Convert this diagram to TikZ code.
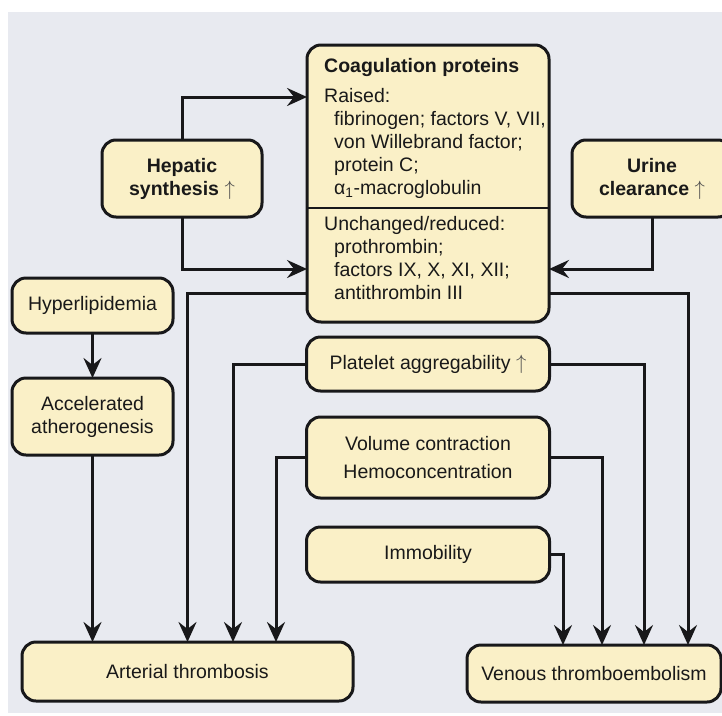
\documentclass[tikz,border=0pt]{standalone}
\usepackage{fontspec}
\setmainfont{Liberation Sans}
\usetikzlibrary{arrows.meta, positioning, calc}

\definecolor{bgpanel}{RGB}{232,234,240}
\definecolor{boxfill}{RGB}{250,240,199}
\definecolor{inkline}{RGB}{24,24,26}
\newcommand{\boxfont}{\fontsize{19.5}{23}\selectfont}

\begin{document}
\begin{tikzpicture}[
  x=1pt, y=-1pt,
  box/.style={draw=inkline, line width=3pt, rounded corners=14pt, fill=boxfill, align=center,
              outer sep=0pt, inner sep=0pt, font=\boxfont, text=black!90},
  bbox/.style={box, font=\boxfont\bfseries},
  txt/.style={align=left, inner sep=0pt, anchor=north west, font=\boxfont, text=black!90},
  line/.style={line width=3pt, draw=inkline, -{Stealth[length=20pt, width=18pt, inset=7pt]}},
  up/.style={text=black!65}
]
\useasboundingbox (0,0) rectangle (722,715);
\fill[bgpanel] (8,12) rectangle (722,713);

% Central block
\node[box, minimum width=242pt, minimum height=277pt] (coag) at (428,183.5) {};
\node[txt] (raised) at ([xshift=17pt,yshift=-12.8pt]coag.north west) {%
\textbf{Coagulation proteins}\\[7pt]
Raised:\\
\hspace*{10pt}fibrinogen; factors V, VII,\\
\hspace*{10pt}von Willebrand factor;\\
\hspace*{10pt}protein C;\\
\hspace*{10pt}α\textsubscript{1}-macroglobulin};
\node[txt] (unchanged) at ([xshift=17pt,yshift=-171pt]coag.north west) {%
Unchanged/reduced:\\
\hspace*{10pt}prothrombin;\\
\hspace*{10pt}factors IX, X, XI, XII;\\
\hspace*{10pt}antithrombin III};
\draw[line width=2.2pt, draw=inkline] ([yshift=-163pt]coag.north west) -- ([yshift=-163pt]coag.north east);

% Side inputs
\node[bbox, minimum width=160pt, minimum height=77pt] (hepatic) at (182,178.5) {Hepatic\\synthesis {\mdseries\color{black!70}$\uparrow$}};
\node[bbox, minimum width=160pt, minimum height=77pt] (urine) at (652,178.5) {Urine\\clearance {\mdseries\color{black!70}$\uparrow$}};
\node[box, minimum width=161pt, minimum height=55pt] (hyper) at (92.5,305.5) {Hyperlipidemia};
\node[box, minimum width=161pt, minimum height=77pt, below=45pt of hyper] (accel) {Accelerated\\atherogenesis};

% Middle column
\node[box, minimum width=243pt, minimum height=54pt, below=15pt of coag] (platelet) {Platelet aggregability {\color{black!70}$\uparrow$}};
\node[box, minimum width=243pt, minimum height=81pt, below=26pt of platelet] (volume) {Volume contraction\\[5pt]Hemoconcentration};
\node[box, minimum width=243pt, minimum height=55pt, below=29pt of volume] (immob) {Immobility};

% Outcomes
\node[box, minimum width=331pt, minimum height=59pt] (arterial) at (187.5,671.5) {Arterial thrombosis};
\node[box, minimum width=254pt, minimum height=57pt] (venous) at (594,673.5) {Venous thromboembolism};

% Inputs to coagulation proteins
\draw[line] (hepatic.north) |- ([yshift=-52pt]coag.north west);
\draw[line] (hepatic.south) |- ([yshift=53pt]coag.south west);
\draw[line] (urine.south) |- ([yshift=53pt]coag.south east);
\draw[line] (hyper) -- (accel);

% Arterial side
\draw[line] (accel.south) -- (accel.south |- arterial.north);
\draw[line] ([yshift=29pt]coag.south west) -| (arterial.north);
\draw[line] (platelet.west) -| ([xshift=45.5pt]arterial.north);
\draw[line] (volume.west) -| ([xshift=88.5pt]arterial.north);

% Venous side
\draw[line] (immob.east) -| ([xshift=-31pt]venous.north);
\draw[line] (volume.east) -| ([xshift=8pt]venous.north);
\draw[line] (platelet.east) -| ([xshift=50pt]venous.north);
\draw[line] ([yshift=29pt]coag.south east) -| ([xshift=94pt]venous.north);

\end{tikzpicture}
\end{document}
